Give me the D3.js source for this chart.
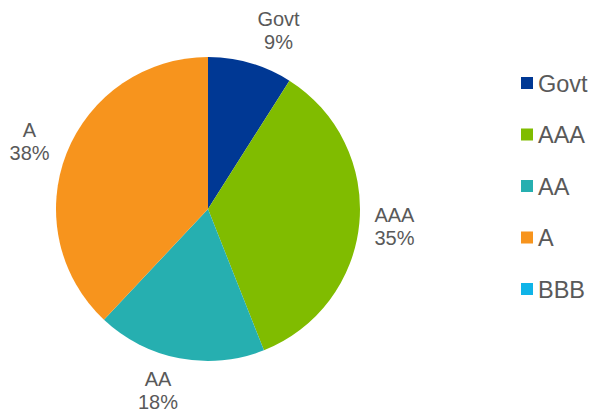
<!DOCTYPE html>
<html>
<head>
<meta charset="utf-8">
<script src="https://cdn.jsdelivr.net/npm/d3@7"></script>
<style>
  html, body { margin: 0; padding: 0; background: #fff; }
  svg { display: block; font-family: "Liberation Sans", Arial, sans-serif; }
</style>
</head>
<body>
<svg id="chart" width="592" height="413"></svg>
<script>
// Portfolio split by credit rating (percent)
const categories = ["Govt", "AAA", "AA", "A", "BBB"];
const values = [9, 35, 18, 38, 0];
const colors = ["#003894", "#80BC00", "#26AFB0", "#F7941D", "#10B4E8"];

const svg = d3.select("#chart");
const cx = 208, cy = 209, radius = 152;

const color = d3.scaleOrdinal().domain(categories).range(colors);
const data = categories.map((c, i) => ({ name: c, value: values[i] }));

const pie = d3.pie().value(d => d.value).sort(null);
const arc = d3.arc().innerRadius(0).outerRadius(radius);
const arcs = pie(data);

const g = svg.append("g").attr("transform", `translate(${cx},${cy})`);
g.selectAll("path")
  .data(arcs.filter(d => d.data.value > 0))
  .join("path")
  .attr("d", arc)
  .attr("fill", d => color(d.data.name));

// Data labels outside each slice, nudged away from the rim
const labelArc = d3.arc().innerRadius(radius + 38).outerRadius(radius + 38);
const labelOffsets = { Govt: [17.5, 11], AAA: [-2.7, 6.6], AA: [-14.4, 1.6], A: [-1.8, 9.4] };
const labels = g.selectAll("text.lbl")
  .data(arcs.filter(d => d.data.value > 0))
  .join("text")
  .attr("class", "lbl")
  .attr("text-anchor", "middle")
  .attr("font-size", 20)
  .attr("fill", "#595959")
  .attr("transform", d => {
    const [x, y] = labelArc.centroid(d);
    const o = labelOffsets[d.data.name] || [0, 0];
    return `translate(${x + o[0]},${y + o[1]})`;
  });
labels.append("tspan").attr("x", 0).attr("y", -11.5).text(d => d.data.name);
labels.append("tspan").attr("x", 0).attr("y", 11.5).text(d => d3.format(".0f")(d.data.value) + "%");

// Legend
const legendY = d3.scalePoint().domain(categories).range([83, 289]);
const legend = svg.append("g").selectAll("g")
  .data(categories)
  .join("g")
  .attr("transform", d => `translate(521,${legendY(d)})`);
legend.append("rect")
  .attr("x", 0).attr("y", -6).attr("width", 12).attr("height", 12)
  .attr("fill", d => color(d));
legend.append("text")
  .attr("x", 17).attr("y", 8.5)
  .attr("font-size", 23.5)
  .attr("fill", "#595959")
  .text(d => d);
</script>
</body>
</html>
